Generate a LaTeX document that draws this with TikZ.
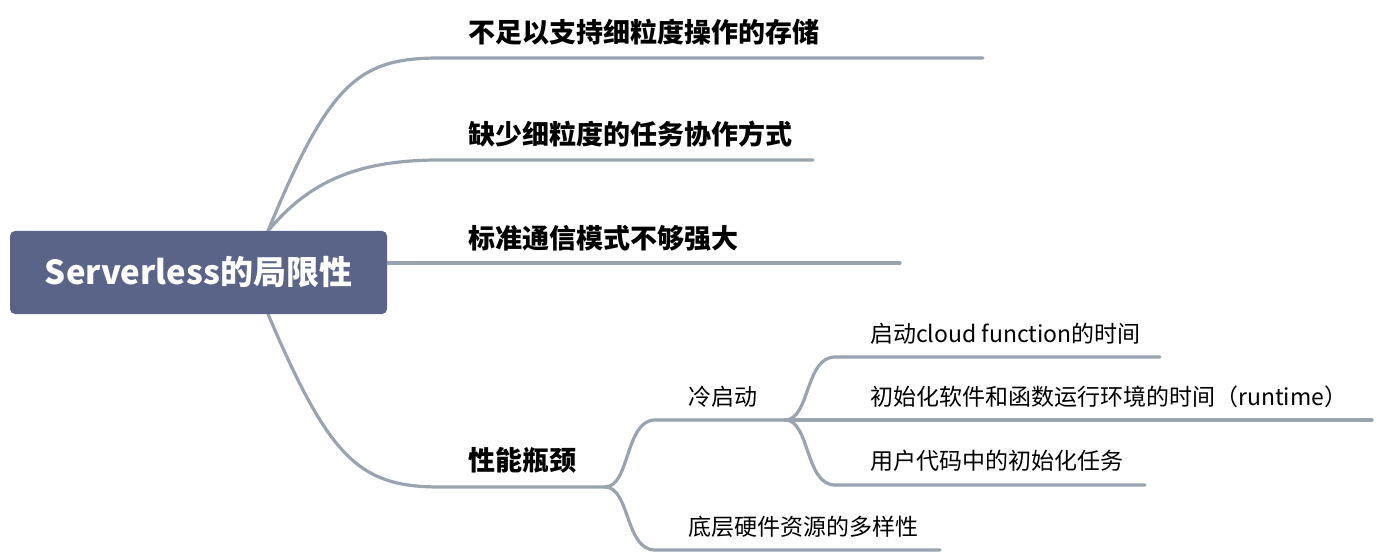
\documentclass[tikz,border=0pt]{standalone}
\usepackage{fontspec}
\setmainfont{Noto Sans CJK SC}
\usetikzlibrary{positioning}
\definecolor{rootcol}{HTML}{5A6388}
\definecolor{linecol}{HTML}{9AA3B0}
\begin{document}
\begin{tikzpicture}[x=1pt,y=-1pt,
                    branch/.style={draw=linecol,line width=3.2pt,line cap=round},
                    topic/.style={anchor=west,font=\bfseries\fontsize{27}{30}\selectfont,inner sep=0pt},
                    sub/.style={anchor=west,font=\fontsize{23}{26}\selectfont,inner sep=0pt}]
  \useasboundingbox (0,0) rectangle (1382,556);
  % connectors
  \coordinate (ru) at (268,231);
  \coordinate (rd) at (268,314);
  \coordinate (b1s) at (440,58);   \coordinate (b1e) at (983,58);
  \coordinate (b2s) at (440,160);  \coordinate (b2e) at (813,160);
  \coordinate (b3s) at (387,263);  \coordinate (b3e) at (900,263);
  \coordinate (b4s) at (440,487);  \coordinate (b4e) at (605,487);
  \coordinate (c1s) at (655,420);  \coordinate (c1e) at (785,420);
  \coordinate (c2s) at (655,550);  \coordinate (c2e) at (940,550);
  \coordinate (d1s) at (835,357);  \coordinate (d1e) at (1160,357);
  \coordinate (d2e) at (1372,420);
  \coordinate (d3s) at (835,485);  \coordinate (d3e) at (1145,485);
  \draw[branch] (ru) .. controls (330,80) and (360,58) .. (b1s) -- (b1e);
  \draw[branch] (ru) .. controls (310,180) and (360,160) .. (b2s) -- (b2e);
  \draw[branch] (b3s) -- (b3e);
  \draw[branch] (rd) .. controls (330,460) and (360,487) .. (b4s) -- (b4e);
  \draw[branch] (b4e) .. controls (630,487) and (625,420) .. (c1s) -- (c1e);
  \draw[branch] (b4e) .. controls (630,487) and (625,550) .. (c2s) -- (c2e);
  \draw[branch] (c1e) .. controls (810,420) and (805,357) .. (d1s) -- (d1e);
  \draw[branch] (c1e) -- (d2e);
  \draw[branch] (c1e) .. controls (810,420) and (805,485) .. (d3s) -- (d3e);
  % root
  \node[fill=rootcol,rounded corners=5pt,minimum width=377pt,minimum height=83pt,
        text=white,font=\bfseries\fontsize{33}{38}\selectfont] (root) at (198.5,272.5) {Serverless的局限性};
  % topics
  \node[topic] (t1) at (468,32) {不足以支持细粒度操作的存储};
  \node[topic] (t2) at (468,134) {缺少细粒度的任务协作方式};
  \node[topic] (t3) at (468,238) {标准通信模式不够强大};
  \node[topic] (t4) at (468,460) {性能瓶颈};
  \node[sub] (s1) at (688,397) {冷启动};
  \node[sub] (s2) at (688,527) {底层硬件资源的多样性};
  \node[sub] (u1) at (870,334) {启动cloud function的时间};
  \node[sub] (u2) at (870,397) {初始化软件和函数运行环境的时间（runtime）};
  \node[sub] (u3) at (870,461) {用户代码中的初始化任务};
\end{tikzpicture}
\end{document}
